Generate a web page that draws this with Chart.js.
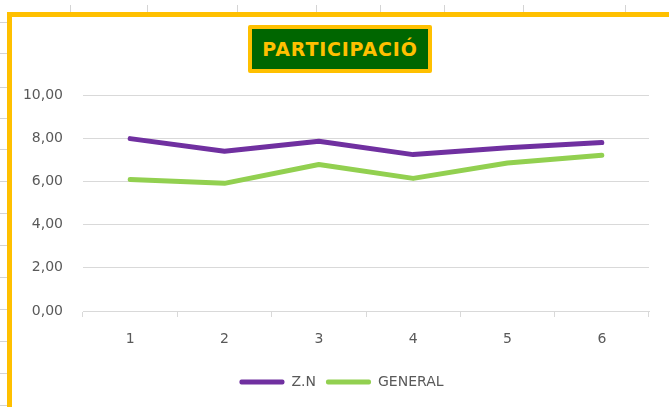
<!DOCTYPE html>
<html><head><meta charset="utf-8">
<script src="https://cdn.jsdelivr.net/npm/chart.js@4"></script>
<style>
html,body{margin:0;padding:0;background:#fff;width:669px;height:407px;overflow:hidden;position:relative;}
#frame{position:absolute;left:7px;top:12px;width:662px;height:395px;border-left:5px solid #FFC000;border-top:5px solid #FFC000;box-sizing:border-box;}
#wrap{position:absolute;left:12px;top:17px;width:657px;height:390px;}
#title{position:absolute;left:248px;top:25px;width:184px;height:48px;box-sizing:border-box;border:4px solid #FFC000;border-radius:2px;background:#006600;color:#FFC000;font:bold 19px "DejaVu Sans";letter-spacing:0.8px;display:flex;align-items:center;justify-content:center;z-index:2;}
.tk{position:absolute;background:#d4d4d4;}
</style></head>
<body>
<div id="frame"></div>
<div id="wrap"><canvas id="c" width="657" height="390"></canvas></div>
<div id="title">PARTICIPACIÓ</div>
<script>
const categories = ['1','2','3','4','5','6'];
const seriesNames = ['Z.N','GENERAL'];
const znValues = [7.98, 7.40, 7.86, 7.24, 7.56, 7.80];
const generalValues = [6.09, 5.91, 6.78, 6.14, 6.85, 7.21];

// decorative sheet tick marks outside the chart frame
const topTickX = [70,147,237,316,380,444,523,625];
const leftTickY = [22,53,87,118,149,181,213,245,277,309,341,373,405];
topTickX.forEach(x=>{const d=document.createElement('div');d.className='tk';d.style.cssText=`left:${x}px;top:5px;width:1px;height:7px;`;document.body.appendChild(d);});
leftTickY.forEach(y=>{const d=document.createElement('div');d.className='tk';d.style.cssText=`left:0px;top:${y}px;width:7px;height:1px;`;document.body.appendChild(d);});

const FONT = {family:'"DejaVu Sans"', size:14};
const TXT = '#595959';
const GRID = '#d9d9d9';

const legendShift = {
  id:'legendShift',
  afterLayout(chart){ if (chart.legend){ chart.legend.left += 11; chart.legend.right += 11; } }
};

new Chart(document.getElementById('c'), {
  type:'line',
  data:{
    labels: categories,
    datasets:[
      {label:seriesNames[0], data:znValues, borderColor:'#7030A0', backgroundColor:'#7030A0', borderWidth:5, pointRadius:0, tension:0, borderCapStyle:'round', borderJoinStyle:'round', fill:false},
      {label:seriesNames[1], data:generalValues, borderColor:'#92D050', backgroundColor:'#92D050', borderWidth:5, pointRadius:0, tension:0, borderCapStyle:'round', borderJoinStyle:'round', fill:false}
    ]
  },
  plugins:[legendShift],
  options:{
    responsive:false, animation:false,
    layout:{padding:{top:78,right:20,left:0,bottom:8}},
    plugins:{
      title:{display:false},
      tooltip:{enabled:false},
      legend:{
        position:'bottom',
        labels:{
          font:FONT, color:TXT, boxWidth:45, boxHeight:5, padding:10,
          generateLabels(chart){
            return Chart.defaults.plugins.legend.labels.generateLabels(chart).map(l=>{
              const ds = chart.data.datasets[l.datasetIndex];
              l.fillStyle = ds.borderColor; l.strokeStyle = ds.borderColor; l.lineWidth = 0; l.borderRadius = 2;
              return l;
            });
          }
        }
      }
    },
    scales:{
      x:{
        offset:true,
        grid:{display:true, drawOnChartArea:false, drawTicks:true, tickLength:6, color:GRID, offset:true},
        border:{display:true, color:GRID},
        ticks:{font:FONT, color:TXT, padding:14, maxRotation:0},
        afterFit(s){ s.height = 54; }
      },
      y:{
        min:0, max:10,
        grid:{color:GRID, drawTicks:false},
        border:{display:false},
        ticks:{stepSize:2, font:FONT, color:TXT, padding:20, callback:v=>v.toFixed(2).replace('.',',')},
        afterFit(s){ s.width = 71; }
      }
    }
  }
});
</script>
</body></html>
